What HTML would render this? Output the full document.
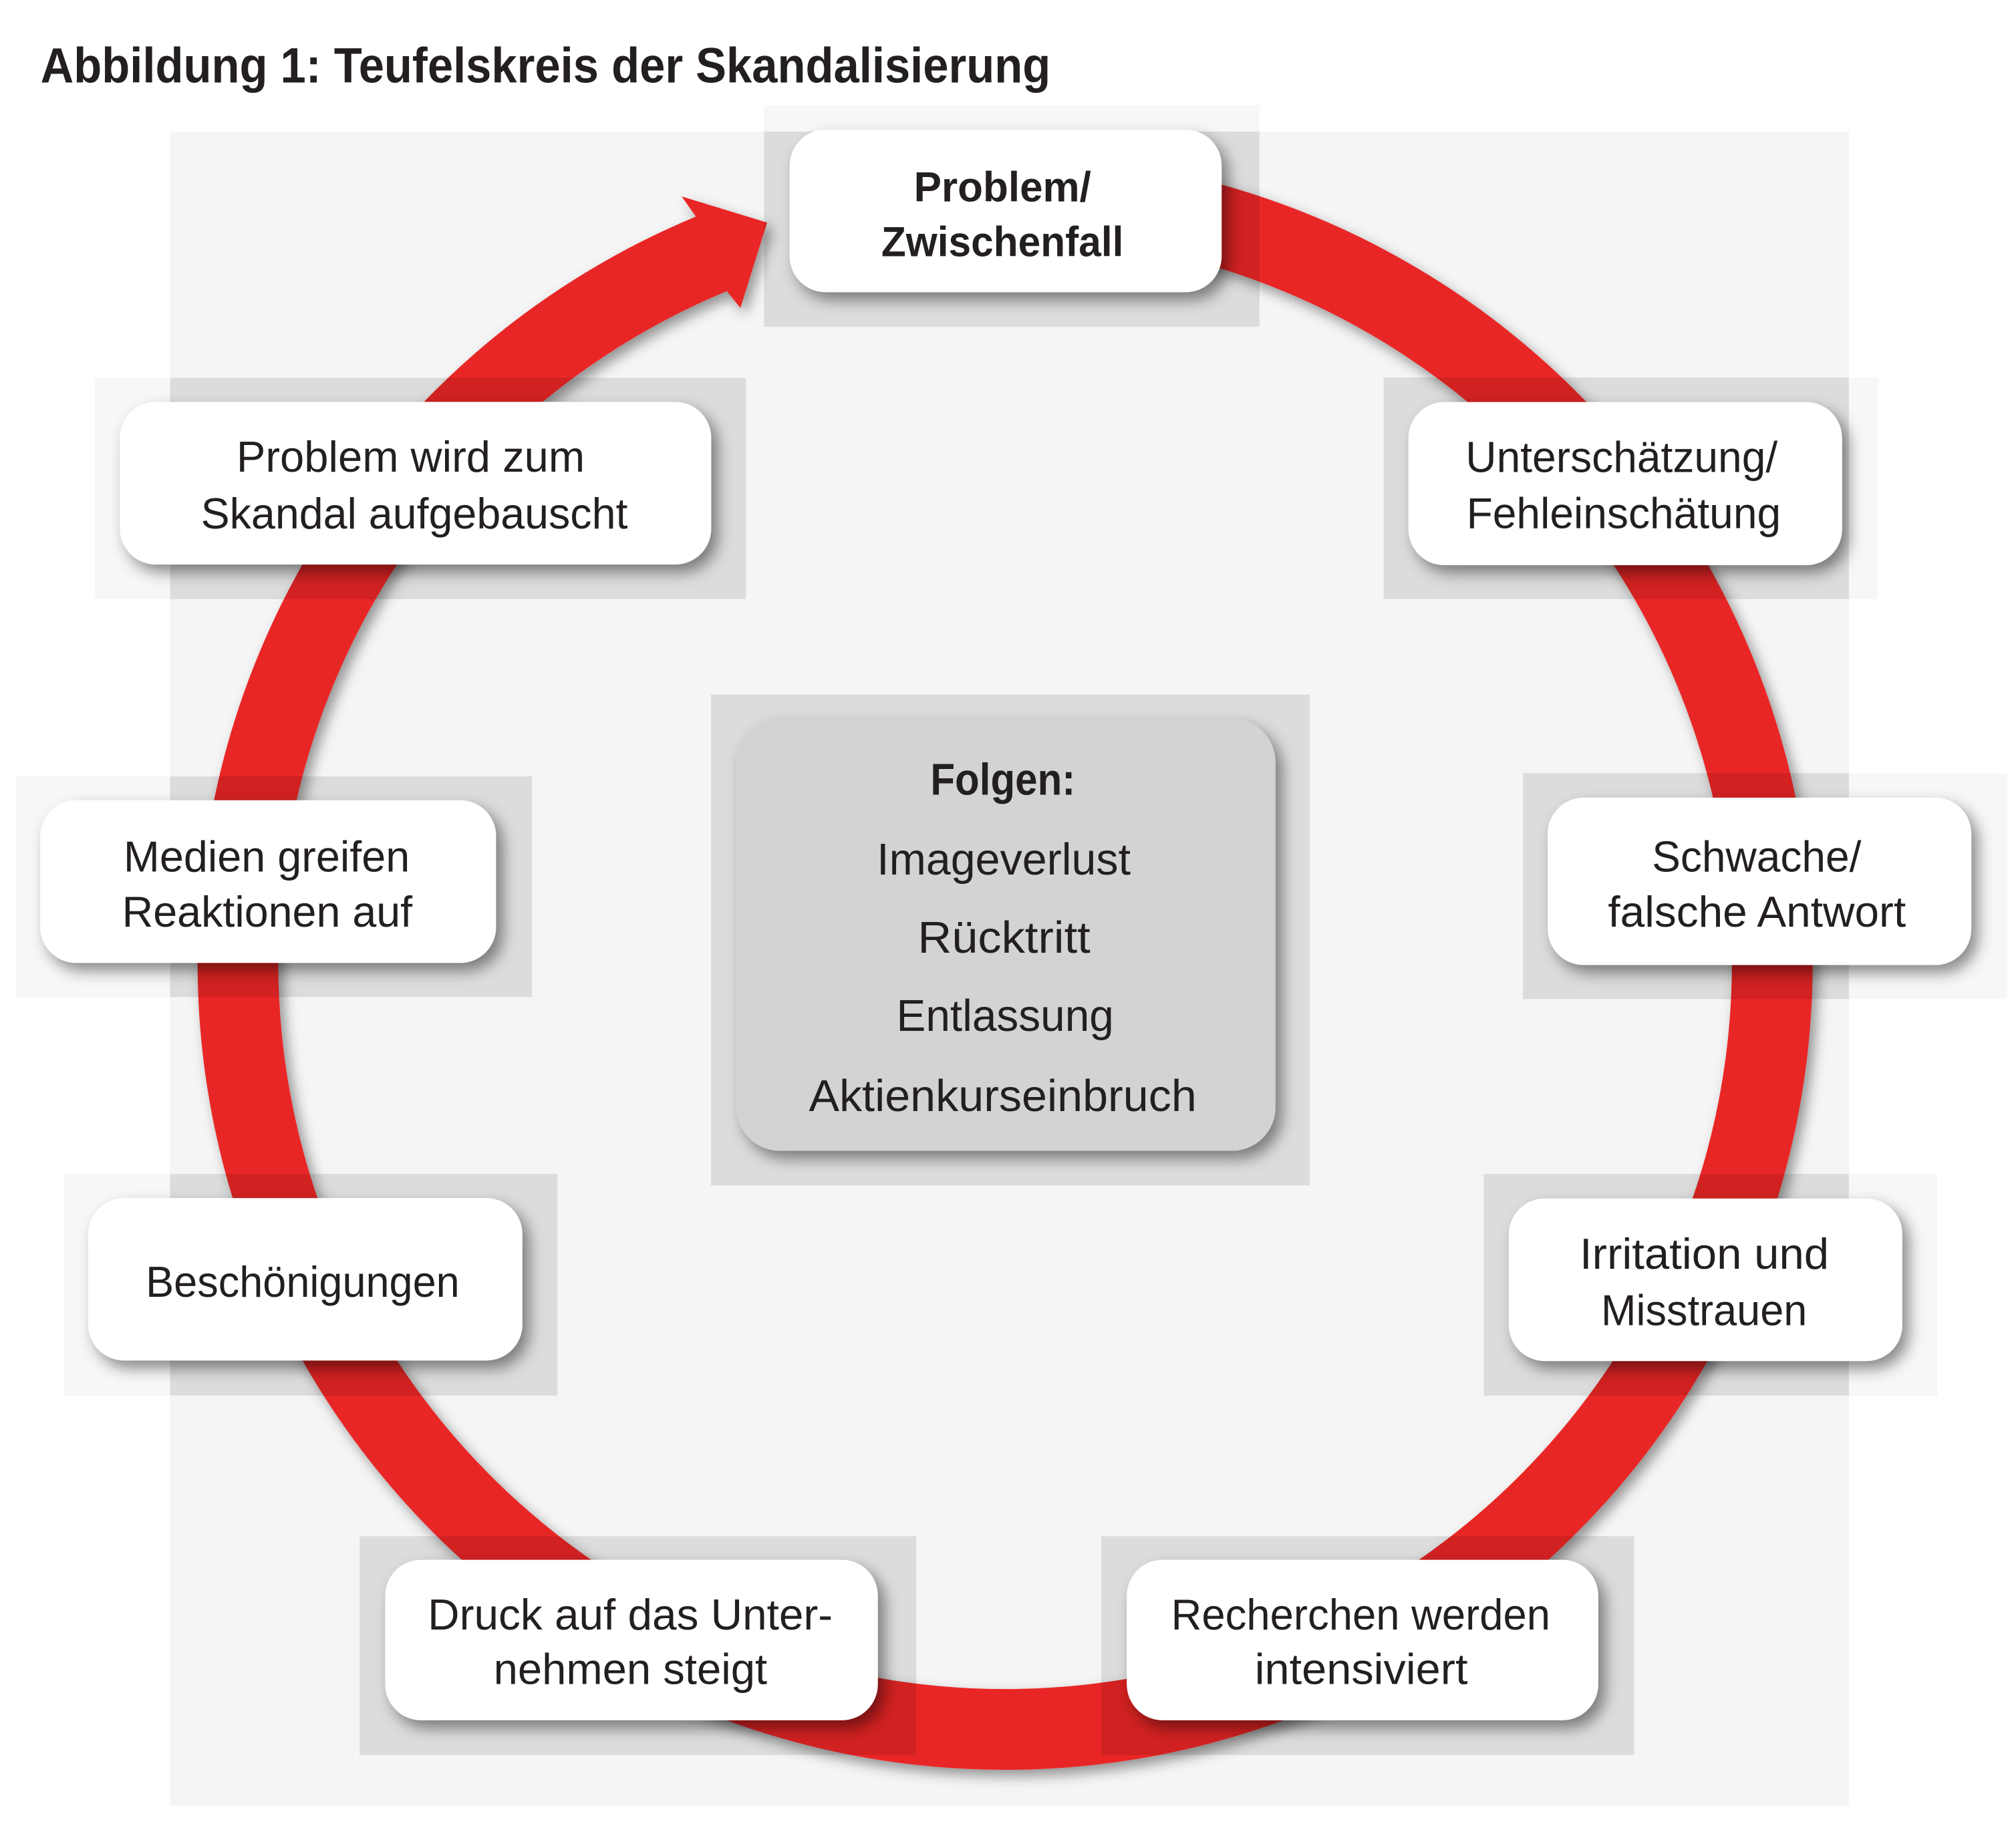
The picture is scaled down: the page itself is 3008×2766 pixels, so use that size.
<!DOCTYPE html>
<html>
<head>
<meta charset="utf-8">
<style>
html,body{margin:0;padding:0;background:#ffffff;}
svg{display:block;}
text{font-family:"Liberation Sans Narrow","Liberation Sans",sans-serif;fill:#231f20;}
.t{font-size:34px;}
.b{font-weight:bold;font-size:33px;}
.c{font-size:35px;}
</style>
</head>
<body>
<svg width="3008" height="2766" viewBox="0 0 1568 1442" preserveAspectRatio="none" xmlns="http://www.w3.org/2000/svg">
<defs>
  <filter id="rs" x="-10%" y="-10%" width="125%" height="125%">
    <feDropShadow dx="4" dy="5" stdDeviation="5" flood-color="#000" flood-opacity="0.4"/>
  </filter>
  <filter id="bs" x="-20%" y="-30%" width="150%" height="170%">
    <feDropShadow dx="5" dy="6" stdDeviation="6" flood-color="#000" flood-opacity="0.45"/>
  </filter>
  <clipPath id="panelClip">
    <rect x="132.7" y="102.7" width="1309.6" height="1306.3"/>
  </clipPath>
</defs>

<!-- light panel -->
<rect x="132.7" y="102.7" width="1309.6" height="1306.3" fill="#f5f5f5"/>

<!-- title -->
<text x="31.6" y="64.3" font-size="38.5" font-weight="bold" textLength="788" lengthAdjust="spacingAndGlyphs">Abbildung 1: Teufelskreis der Skandalisierung</text>

<!-- red ring with arrowhead -->
<path filter="url(#rs)" fill="#e92825"
  d="M784,121 A630,630 0 1 1 542.9,169 L531.7,153.3 L598.4,173.7 L577.6,240.3 L567,227.2 A567,567 0 1 0 784,184 Z"/>

<!-- gray squares: light layer everywhere -->
<g fill="#000" fill-opacity="0.03">
  <rect x="596" y="82" width="386.6" height="173"/>
  <rect x="1079.4" y="294.6" width="385.6" height="172.9"/>
  <rect x="1188" y="603.3" width="378" height="176.3"/>
  <rect x="1157.5" y="916" width="353.9" height="173"/>
  <rect x="859.1" y="1198.7" width="415.6" height="170.7"/>
  <rect x="280.5" y="1198.7" width="434.3" height="170.7"/>
  <rect x="49.7" y="916" width="385.3" height="173"/>
  <rect x="12.6" y="605.8" width="402.4" height="172.2"/>
  <rect x="73.9" y="294.8" width="508" height="172.7"/>
  <rect x="554.6" y="542" width="467.1" height="383"/>
</g>
<!-- gray squares: darker inside panel -->
<g fill="#000" fill-opacity="0.072" clip-path="url(#panelClip)">
  <rect x="596" y="82" width="386.6" height="173"/>
  <rect x="1079.4" y="294.6" width="385.6" height="172.9"/>
  <rect x="1188" y="603.3" width="378" height="176.3"/>
  <rect x="1157.5" y="916" width="353.9" height="173"/>
  <rect x="859.1" y="1198.7" width="415.6" height="170.7"/>
  <rect x="280.5" y="1198.7" width="434.3" height="170.7"/>
  <rect x="49.7" y="916" width="385.3" height="173"/>
  <rect x="12.6" y="605.8" width="402.4" height="172.2"/>
  <rect x="73.9" y="294.8" width="508" height="172.7"/>
  <rect x="554.6" y="542" width="467.1" height="383"/>
</g>

<!-- boxes -->
<g filter="url(#bs)">
  <rect x="616" y="101.2" width="337" height="126.8" rx="28" ry="28" fill="#ffffff"/>
  <rect x="1098.7" y="313.7" width="338.3" height="127.3" rx="28" ry="28" fill="#ffffff"/>
  <rect x="1207.4" y="622.4" width="330.4" height="130.6" rx="28" ry="28" fill="#ffffff"/>
  <rect x="1177" y="935.2" width="307" height="126.8" rx="28" ry="28" fill="#ffffff"/>
  <rect x="879" y="1217.1" width="367.8" height="125.2" rx="28" ry="28" fill="#ffffff"/>
  <rect x="300.5" y="1217.1" width="384.3" height="125.2" rx="28" ry="28" fill="#ffffff"/>
  <rect x="68.8" y="934.9" width="338.7" height="126.7" rx="28" ry="28" fill="#ffffff"/>
  <rect x="31.4" y="624.4" width="355.6" height="127" rx="28" ry="28" fill="#ffffff"/>
  <rect x="93.5" y="313.6" width="461.3" height="126.9" rx="28" ry="28" fill="#ffffff"/>
  <rect x="574.5" y="560.7" width="420.5" height="337.3" rx="34" ry="34" fill="#d3d3d3"/>
</g>

<!-- box texts -->
<text class="b" x="712.9" y="157.1" textLength="138.3" lengthAdjust="spacingAndGlyphs">Problem/</text>
<text class="b" x="687.5" y="199.9" textLength="189" lengthAdjust="spacingAndGlyphs">Zwischenfall</text>

<text class="t" x="1143.3" y="368.4" textLength="243.4" lengthAdjust="spacingAndGlyphs">Unterschätzung/</text>
<text class="t" x="1144" y="412.2" textLength="245.3" lengthAdjust="spacingAndGlyphs">Fehleinschätung</text>

<text class="t" x="1288.7" y="680" textLength="163.3" lengthAdjust="spacingAndGlyphs">Schwache/</text>
<text class="t" x="1254.4" y="723" textLength="232.4" lengthAdjust="spacingAndGlyphs">falsche Antwort</text>

<text class="t" x="1232.3" y="990" textLength="194.5" lengthAdjust="spacingAndGlyphs">Irritation und</text>
<text class="t" x="1249" y="1034" textLength="160.7" lengthAdjust="spacingAndGlyphs">Misstrauen</text>

<text class="t" x="913.6" y="1271.6" textLength="295.8" lengthAdjust="spacingAndGlyphs">Recherchen werden</text>
<text class="t" x="978.8" y="1314" textLength="166.2" lengthAdjust="spacingAndGlyphs">intensiviert</text>

<text class="t" x="333.7" y="1271.6" textLength="315.9" lengthAdjust="spacingAndGlyphs">Druck auf das Unter-</text>
<text class="t" x="385" y="1314" textLength="213.5" lengthAdjust="spacingAndGlyphs">nehmen steigt</text>

<text class="t" x="113.7" y="1011.8" textLength="244.8" lengthAdjust="spacingAndGlyphs">Beschönigungen</text>

<text class="t" x="96.4" y="680" textLength="223.3" lengthAdjust="spacingAndGlyphs">Medien greifen</text>
<text class="t" x="95.2" y="723" textLength="226.5" lengthAdjust="spacingAndGlyphs">Reaktionen auf</text>

<text class="t" x="184.5" y="368" textLength="271.7" lengthAdjust="spacingAndGlyphs">Problem wird zum</text>
<text class="t" x="156.7" y="412.4" textLength="333" lengthAdjust="spacingAndGlyphs">Skandal aufgebauscht</text>

<!-- center texts -->
<text x="725.8" y="620" font-size="35" font-weight="bold" textLength="113.1" lengthAdjust="spacingAndGlyphs">Folgen:</text>
<text class="c" x="684" y="682.5" textLength="198" lengthAdjust="spacingAndGlyphs">Imageverlust</text>
<text class="c" x="715.9" y="743.5" textLength="134.7" lengthAdjust="spacingAndGlyphs">Rücktritt</text>
<text class="c" x="699.3" y="804.5" textLength="169.6" lengthAdjust="spacingAndGlyphs">Entlassung</text>
<text class="c" x="631" y="867" textLength="302.5" lengthAdjust="spacingAndGlyphs">Aktienkurseinbruch</text>
</svg>
</body>
</html>
